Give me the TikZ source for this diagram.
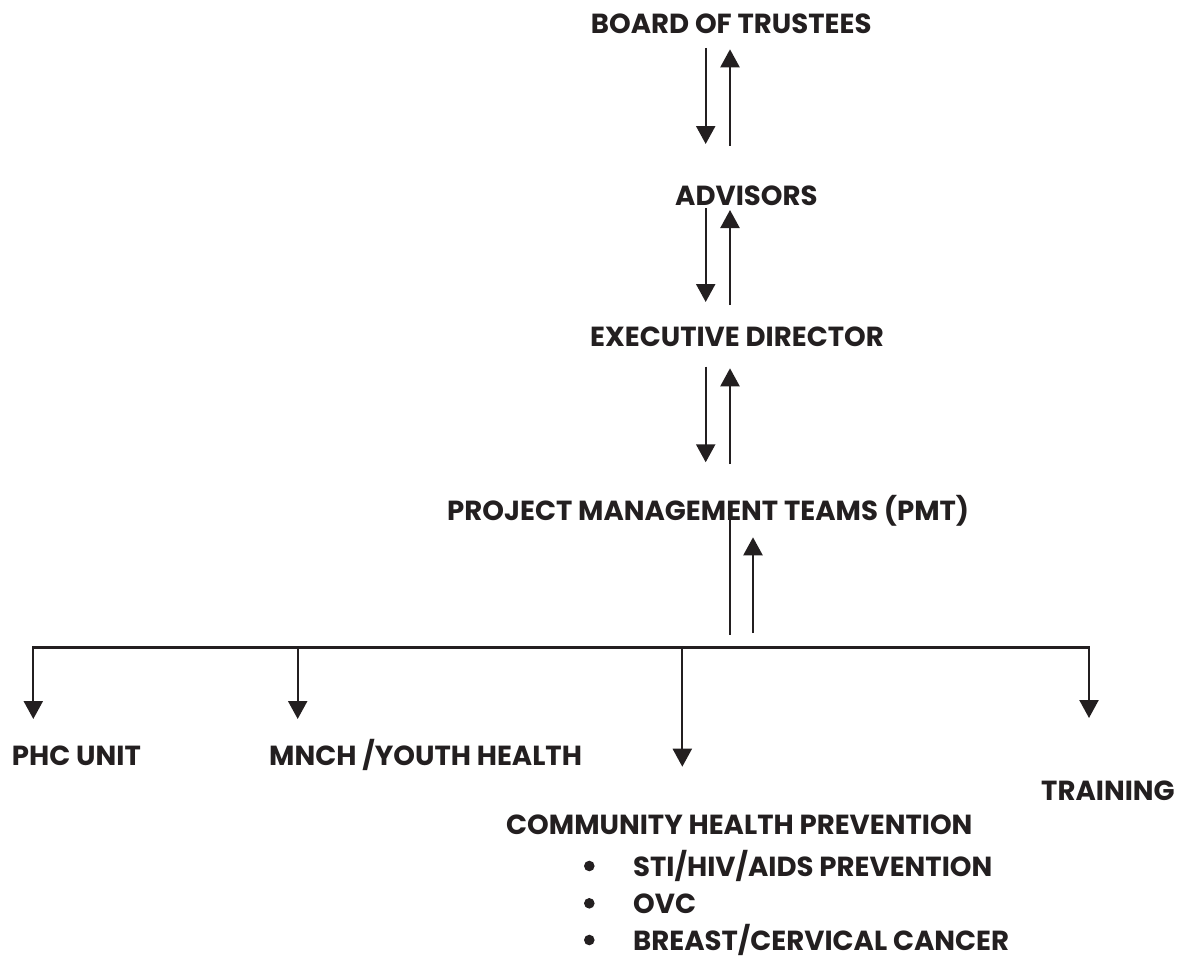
\documentclass[tikz,border=0pt]{standalone}
\usepackage{fontspec}
\setmainfont{Poppins}
\usetikzlibrary{arrows.meta}
\definecolor{ink}{RGB}{35,31,32}
\begin{document}
\begin{tikzpicture}[x=1pt,y=-1pt,
  lbl/.style={anchor=base west,inner sep=0pt,text=ink,font=\fontsize{27.6}{32}\selectfont\bfseries},
  arr/.style={draw=ink,line width=2.3pt,-{Triangle[width=19pt,length=18pt]}},
  ln/.style={draw=ink,line width=2.3pt},
  dot/.style={fill=ink}]
\useasboundingbox (0,0) rectangle (1189,958);
% labels
\node[lbl] (board) at (590.7,33.3) {BOARD OF TRUSTEES};
\node[lbl] (adv) at (675,205.7) {ADVISORS};
\node[lbl] (exec) at (590,346.7) {EXECUTIVE DIRECTOR};
\node[lbl] (pmt) at (447,520) {PROJECT MANAGEMENT TEAMS (PMT)};
\node[lbl] (phc) at (11.7,765) {PHC UNIT};
\node[lbl] (mnch) at (269,765) {MNCH /YOUTH HEALTH};
\node[lbl] (train) at (1041,800) {TRAINING};
\node[lbl] (comm) at (506,834.3) {COMMUNITY HEALTH PREVENTION};
\node[lbl] (sti) at (633,876) {STI/HIV/AIDS PREVENTION};
\node[lbl] (ovc) at (633,913.3) {OVC};
\node[lbl] (brc) at (633,950) {BREAST/CERVICAL CANCER};
% bullets
\fill[dot] (589.3,866) circle (5.3);
\fill[dot] (589.3,903.3) circle (5.3);
\fill[dot] (589.3,940) circle (5.3);
% arrow end points
\coordinate (b1) at (705.7,48);    \coordinate (a1) at (705.7,144);
\coordinate (a2) at (730,145.7);   \coordinate (b2) at (730,49.3);
\coordinate (a3) at (705.7,208);   \coordinate (e3) at (705.7,302);
\coordinate (e4) at (730,305);     \coordinate (a4) at (730,210);
\coordinate (e5) at (705.7,366.7); \coordinate (p5) at (705.7,462.3);
\coordinate (p6) at (730,464);     \coordinate (e6) at (730,368.3);
\coordinate (p7) at (730,515);     \coordinate (h7) at (730,635);
\coordinate (h8) at (753,633);     \coordinate (p8) at (753,537.3);
\coordinate (hl) at (33.3,647.5);  \coordinate (hr) at (1089,647.5);
\coordinate (hphc) at (33.3,719);
\coordinate (hm0) at (297.7,647.5); \coordinate (hm) at (297.7,719);
\coordinate (hc0) at (682.3,647.5); \coordinate (hc) at (682.3,766.7);
\coordinate (ht) at (1089,718);
% connectors
\draw[arr] (b1) -- (a1);
\draw[arr] (a2) -- (b2);
\draw[arr] (a3) -- (e3);
\draw[arr] (e4) -- (a4);
\draw[arr] (e5) -- (p5);
\draw[arr] (p6) -- (e6);
\draw[ln] (p7) -- (h7);
\draw[arr] (h8) -- (p8);
\draw[ln,line cap=rect] (hl) -- (hr);
\draw[arr] (hl) -- (hphc);
\draw[arr] (hm0) -- (hm);
\draw[arr] (hc0) -- (hc);
\draw[arr] (hr) -- (ht);
\end{tikzpicture}
\end{document}
